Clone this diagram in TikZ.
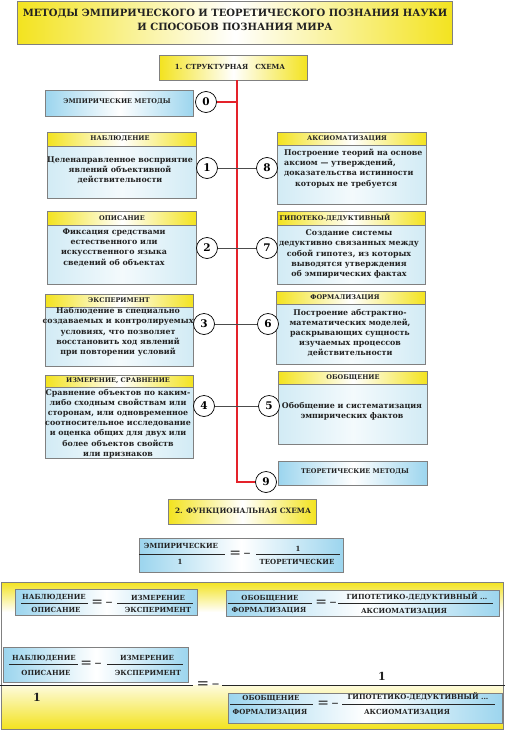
\documentclass[tikz,border=0pt]{standalone}
\usepackage{fontspec}
\setmainfont{DejaVu Serif}
\definecolor{ylw}{HTML}{F3E31F}
\definecolor{skyb}{HTML}{9CD5EE}
\definecolor{bodyb}{HTML}{D2EBF5}
\definecolor{bordg}{HTML}{808080}
\definecolor{redl}{HTML}{E4222A}
\definecolor{txt}{HTML}{222222}
\tikzset{
  ybar/.style={draw=bordg, line width=0.9pt, left color=ylw, right color=ylw, middle color=white, inner sep=0pt, anchor=north west},
  bbody/.style={draw=bordg, line width=0.9pt, left color=bodyb, right color=bodyb, middle color=bodyb!25!white, inner sep=0pt, anchor=north west},
  sbox/.style={draw=bordg, line width=0.9pt, left color=skyb, right color=skyb, middle color=white, inner sep=0pt, anchor=north west},
  numc/.style={circle, draw=black, line width=0.7pt, fill=white, minimum size=21pt, inner sep=0pt, font=\fontsize{10.5}{11}\selectfont\bfseries},
  hdr/.style={font=\fontsize{6.5}{7}\selectfont\bfseries, text=txt, inner sep=0pt},
  ttl/.style={font=\fontsize{10}{14}\selectfont\bfseries, text=txt, align=center, inner sep=0pt},
  bodytxt/.style={font=\fontsize{7.9}{10.2}\selectfont\bfseries, text=txt, align=center, inner sep=0pt},
  frc/.style={font=\fontsize{7}{8}\selectfont\bfseries, text=txt, inner sep=0pt},
  eqs/.style={font=\fontsize{14}{14}\selectfont, text=txt, inner sep=0pt},
  one/.style={font=\fontsize{11}{11}\selectfont\bfseries, text=txt, inner sep=0pt},
  link/.style={draw=black!70, line width=0.6pt},
  redline/.style={draw=redl, line width=1.8pt},
  fbar/.style={draw=black!85, line width=0.7pt},
  panel/.style={draw=bordg, line width=0.9pt, inner sep=0pt, anchor=north west},
}
\begin{document}
\begin{tikzpicture}[x=1pt,y=-1pt]
\useasboundingbox[fill=white] (0,0) rectangle (505,731);

% bottom panel background
\path[top color=ylw, bottom color=white] (1,582) rectangle (503,612);
\path[top color=ylw!15!white, bottom color=ylw] (1,685) rectangle (503,729);
\node[panel, minimum width=502pt, minimum height=147pt] (panel) at (1,582) {};

% title
\node[ybar, minimum width=435pt, minimum height=43pt] (title) at (17,1) {};
\node[ttl] (titletxt) at (235,19.5) {МЕТОДЫ ЭМПИРИЧЕСКОГО И ТЕОРЕТИЧЕСКОГО ПОЗНАНИЯ НАУКИ\\И СПОСОБОВ ПОЗНАНИЯ МИРА};

% structural scheme
\node[ybar, minimum width=148pt, minimum height=25pt] (s1) at (159,55) {};
\node[hdr, font=\fontsize{7}{8}\selectfont\bfseries] (s1t) at (230,67) {1. СТРУКТУРНАЯ\quad СХЕМА};

\node[sbox, minimum width=148pt, minimum height=26pt] (emp) at (45,90) {};
\node[hdr] (empt) at (117,102) {ЭМПИРИЧЕСКИЕ МЕТОДЫ};

\node[sbox, minimum width=149pt, minimum height=24pt] (theo) at (278,461) {};
\node[hdr] (theot) at (355,472) {ТЕОРЕТИЧЕСКИЕ МЕТОДЫ};

% box 1
\node[ybar, minimum width=149pt, minimum height=14pt] (h1) at (47,132) {};
\node[bbody, minimum width=149pt, minimum height=52pt] (b1) at (47,146) {};
\node[hdr] (h1t) at (120,139) {НАБЛЮДЕНИЕ};
\node[bodytxt] (b1t) at (120,170) {Целенаправленное восприятие\\явлений объективной\\действительности};
% box 8
\node[ybar, minimum width=149pt, minimum height=13pt] (h8) at (277,132) {};
\node[bbody, minimum width=149pt, minimum height=59pt] (b8) at (277,145) {};
\node[hdr] (h8t) at (347,139) {АКСИОМАТИЗАЦИЯ};
\node[bodytxt, align=left, anchor=west] (b8t) at (284,168.5) {Построение теорий на основе\\аксиом — утверждений,\\доказательства истинности\\\hspace*{11pt}которых не требуется};
% box 2
\node[ybar, minimum width=149pt, minimum height=14pt] (h2) at (47,211) {};
\node[bbody, minimum width=149pt, minimum height=59pt] (b2) at (47,225) {};
\node[hdr] (h2t) at (122,218) {ОПИСАНИЕ};
\node[bodytxt] (b2t) at (114,247.5) {Фиксация средствами\\естественного или\\искусственного языка\\сведений об объектах};
% box 7
\node[ybar, minimum width=148pt, minimum height=14pt] (h7) at (277,211) {};
\node[bbody, minimum width=148pt, minimum height=59pt] (b7) at (277,225) {};
\node[hdr] (h7t) at (335,218) {ГИПОТЕКО-ДЕДУКТИВНЫЙ};
\node[bodytxt] (b7t) at (349,254) {Создание системы\\дедуктивно связанных между\\собой гипотез, из которых\\выводятся утверждения\\об эмпирических фактах};
% box 3
\node[ybar, minimum width=148pt, minimum height=13pt] (h3) at (45,294) {};
\node[bbody, minimum width=148pt, minimum height=59pt] (b3) at (45,307) {};
\node[hdr] (h3t) at (119,300.5) {ЭКСПЕРИМЕНТ};
\node[bodytxt] (b3t) at (118,332) {Наблюдение в специально\\создаваемых и контролируемых\\условиях, что позволяет\\восстановить ход явлений\\при повторении условий};
% box 6
\node[ybar, minimum width=149pt, minimum height=13pt] (h6) at (276,291) {};
\node[bbody, minimum width=149pt, minimum height=60pt] (b6) at (276,304) {};
\node[hdr] (h6t) at (345,297.5) {ФОРМАЛИЗАЦИЯ};
\node[bodytxt] (b6t) at (350,333) {Построение абстрактно-\\математических моделей,\\раскрывающих сущность\\изучаемых процессов\\действительности};
% box 4
\node[ybar, minimum width=148pt, minimum height=12pt] (h4) at (45,375) {};
\node[bbody, minimum width=148pt, minimum height=71pt] (b4) at (45,387) {};
\node[hdr] (h4t) at (118,381) {ИЗМЕРЕНИЕ, СРАВНЕНИЕ};
\node[bodytxt] (b4t) at (118,423.5) {Сравнение объектов по каким-\\либо сходным свойствам или\\сторонам, или одновременное\\соотносительное исследование\\и оценка общих для двух или\\более объектов свойств\\или признаков};
% box 5
\node[ybar, minimum width=149pt, minimum height=13pt] (h5) at (278,371) {};
\node[bbody, minimum width=149pt, minimum height=60pt] (b5) at (278,384) {};
\node[hdr] (h5t) at (353,377.5) {ОБОБЩЕНИЕ};
\node[bodytxt] (b5t) at (352,411) {Обобщение и систематизация\\эмпирических фактов};

% red trunk
\coordinate (rt) at (237,80);
\coordinate (rb) at (237,482);
\node[numc] (c0) at (206,102) {0};
\node[numc] (c9) at (266,482) {9};
\draw[redline] (rt) -- (rb) -- (c9);
\draw[redline] (c0) -- (c0 -| rt);

% numbered circles and links
\node[numc] (c1) at (207,168) {1};
\node[numc] (c8) at (267,168) {8};
\node[numc] (c2) at (207,248) {2};
\node[numc] (c7) at (267,248) {7};
\node[numc] (c3) at (204,324) {3};
\node[numc] (c6) at (268,324) {6};
\node[numc] (c4) at (204,406) {4};
\node[numc] (c5) at (269,406) {5};
\draw[link] (c1) -- (c8);
\draw[link] (c2) -- (c7);
\draw[link] (c3) -- (c6);
\draw[link] (c4) -- (c5);

% functional scheme
\node[ybar, minimum width=148pt, minimum height=25pt] (s2) at (168,499) {};
\node[hdr, font=\fontsize{7.3}{8}\selectfont\bfseries] (s2t) at (243,511.5) {2. ФУНКЦИОНАЛЬНАЯ СХЕМА};

\node[sbox, minimum width=204pt, minimum height=34pt] (eq0) at (139,538) {};
\node[frc] (e0a) at (181,546) {ЭМПИРИЧЕСКИЕ};
\node[frc] (e0b) at (180,562) {1};
\draw[fbar] (139,554) -- (225,554);
\node[eqs] (e0eq) at (240,554) {=\,–};
\node[frc] (e0c) at (298,548.5) {1};
\draw[fbar] (256,554) -- (340,554);
\node[frc] (e0d) at (297,562) {ТЕОРЕТИЧЕСКИЕ};

% box A
\node[sbox, minimum width=182pt, minimum height=26pt] (bA) at (15,589) {};
\node[frc] (Aa) at (54,597.5) {НАБЛЮДЕНИЕ};
\draw[fbar] (21,603) -- (88,603);
\node[frc] (Ab) at (56,610) {ОПИСАНИЕ};
\node[eqs] (Aeq) at (102,603) {=\,–};
\node[frc] (Ac) at (158,597.5) {ИЗМЕРЕНИЕ};
\draw[fbar] (117,603) -- (193,603);
\node[frc] (Ad) at (158,610) {ЭКСПЕРИМЕНТ};

% box B
\node[sbox, minimum width=273pt, minimum height=26pt] (bB) at (226,590) {};
\node[frc] (Ba) at (270,598) {ОБОБЩЕНИЕ};
\draw[fbar] (228,603) -- (312,603);
\node[frc] (Bb) at (269,610.5) {ФОРМАЛИЗАЦИЯ};
\node[eqs] (Beq) at (326,603) {=\,–};
\node[frc] (Bc) at (417,596.5) {ГИПОТЕТИКО-ДЕДУКТИВНЫЙ ...};
\draw[fbar] (338,603) -- (493,603);
\node[frc] (Bd) at (404,611) {АКСИОМАТИЗАЦИЯ};

% box C
\node[sbox, minimum width=185pt, minimum height=35pt] (bC) at (3,647) {};
\node[frc] (Ca) at (44,658) {НАБЛЮДЕНИЕ};
\draw[fbar] (9,664) -- (78,664);
\node[frc] (Cb) at (46,673) {ОПИСАНИЕ};
\node[eqs] (Ceq) at (91,664) {=\,–};
\node[frc] (Cc) at (147,658) {ИЗМЕРЕНИЕ};
\draw[fbar] (107,664) -- (183,664);
\node[frc] (Cd) at (148,673) {ЭКСПЕРИМЕНТ};

% main fraction
\draw[fbar] (0,685) -- (193,685);
\node[one] (one1) at (37,697) {1};
\node[eqs, font=\fontsize{15}{15}\selectfont] (meq) at (208,685) {=\,–};
\draw[fbar] (222,685) -- (505,685);
\node[one] (one2) at (382,676) {1};

% box D
\node[sbox, minimum width=274pt, minimum height=30pt] (bD) at (228,693) {};
\node[frc] (Da) at (271,698) {ОБОБЩЕНИЕ};
\draw[fbar] (230,704) -- (313,704);
\node[frc] (Db) at (270,712) {ФОРМАЛИЗАЦИЯ};
\node[eqs] (Deq) at (328,704) {=\,–};
\node[frc] (Dc) at (418,697) {ГИПОТЕТИКО-ДЕДУКТИВНЫЙ ...};
\draw[fbar] (342,704) -- (495,704);
\node[frc] (Dd) at (407,712.5) {АКСИОМАТИЗАЦИЯ};
\end{tikzpicture}
\end{document}
